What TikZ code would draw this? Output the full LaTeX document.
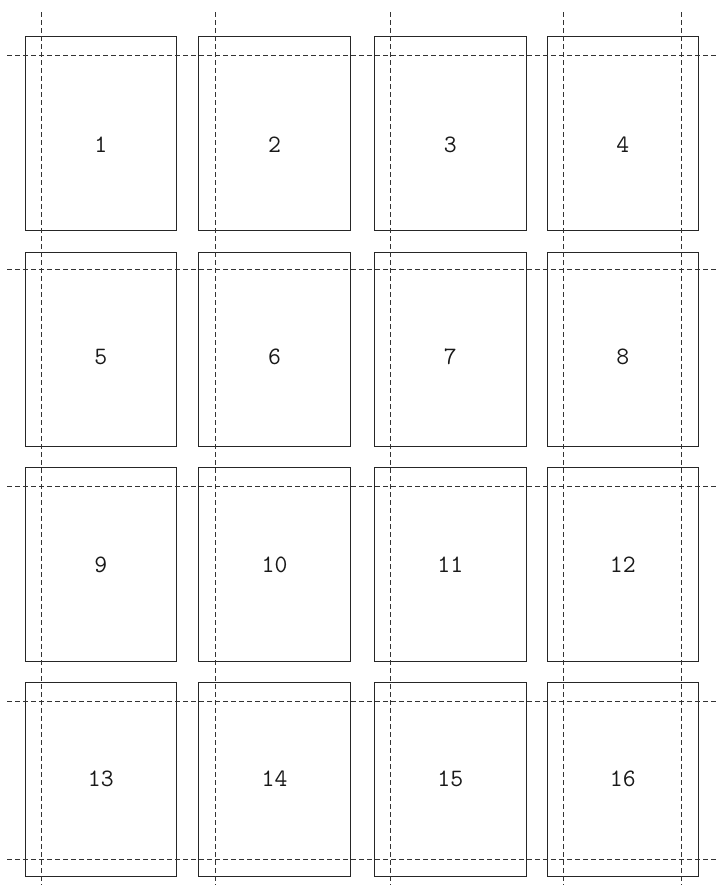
\documentclass[tikz,border=0pt]{standalone}
\usetikzlibrary{calc}
\begin{document}
\begin{tikzpicture}[x=1bp,y=-1bp,
  page/.style={draw=black!85,line width=1.1bp,minimum width=151.5bp,minimum height=193.8bp,inner sep=0pt,anchor=north west},
  lab/.style={font=\fontsize{25bp}{28bp}\ttfamily\selectfont,inner sep=0pt,text=black!90},
  cut/.style={draw=black!80,line width=1bp,dash pattern=on 5bp off 3bp}]
\useasboundingbox (0,0) rectangle (719,885);
\def\lefts{{24.5,198.3,374,546.5}}
\def\tops{{35.7,251.7,467,682}}
\def\tys{{145,356.7,565,779}}
\foreach \r in {0,...,3}{
  \foreach \c in {0,...,3}{
    \pgfmathtruncatemacro{\n}{\r*4+\c+1}
    \pgfmathsetmacro{\lx}{\lefts[\c]}
    \pgfmathsetmacro{\ty}{\tops[\r]}
    \pgfmathsetmacro{\yy}{\tys[\r]}
    \node[page] (box\n) at (\lx,\ty) {};
    \node[lab] (lab\n) at ($(box\n.center|-0,\yy)$) {\n};
  }
}
\foreach \i/\x in {1/41.3,2/215,3/390.7,4/563.3,5/681.7}{
  \coordinate (vt\i) at (\x,12);
  \coordinate (vb\i) at (\x,885);
  \draw[cut] (vt\i) -- (vb\i);
}
\foreach \i/\y in {1/55.7,2/269.3,3/486,4/701,5/859.3}{
  \coordinate (hl\i) at (7,\y);
  \coordinate (hr\i) at (719,\y);
  \draw[cut] (hl\i) -- (hr\i);
}
\end{tikzpicture}
\end{document}
